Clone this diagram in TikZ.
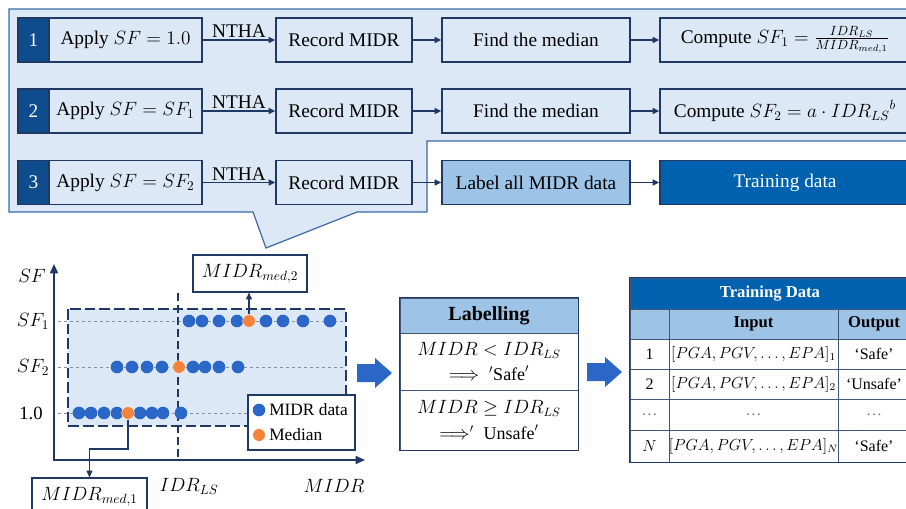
\documentclass[tikz,border=0pt]{standalone}
\usepackage{fontspec}
\setmainfont{Liberation Serif}
\usetikzlibrary{arrows.meta,calc}
\definecolor{panelfill}{HTML}{DCE8F5}
\definecolor{panelborder}{HTML}{3A6AA8}
\definecolor{navy}{HTML}{1F3864}
\definecolor{numfill}{HTML}{0F4C8E}
\definecolor{tdfill}{HTML}{0062AE}
\definecolor{labfill}{HTML}{9DC3E6}
\definecolor{dotblue}{HTML}{2B67C6}
\definecolor{dotorange}{HTML}{F5823A}
\definecolor{rowgray}{HTML}{8A8FA0}
\begin{document}
\begin{tikzpicture}[x=0.75pt,y=-0.75pt,
  box/.style={draw=navy, line width=1.1pt, fill=panelfill, minimum height=33pt, inner sep=0pt, font=\fontsize{14.5}{17}\selectfont},
  numbox/.style={box, fill=numfill, text=white, minimum width=23.25pt},
  txt/.style={inner sep=0pt, font=\fontsize{14.5}{17}\selectfont},
  flow/.style={draw=navy, line width=1.1pt, -{Triangle[length=5pt,width=4.5pt]}},
  dot/.style={circle, fill=dotblue, minimum size=9.5pt, inner sep=0pt},
  med/.style={circle, fill=dotorange, draw=white, line width=0.3pt, minimum size=9.5pt, inner sep=0pt},
  rowline/.style={draw=rowgray, line width=0.6pt, dash pattern=on 2.5pt off 2pt},
  mbox/.style={draw=navy, line width=0.9pt, fill=white, inner sep=0pt, font=\fontsize{14}{16}\selectfont},
  plab/.style={inner sep=0pt, font=\fontsize{14}{16}\selectfont},
  cell/.style={draw=navy!85, line width=0.6pt, fill=white, inner sep=0pt, font=\fontsize{12}{14}\selectfont},
  bigarrow/.style={fill=dotblue}
]
\useasboundingbox (0,0) rectangle (906,508);
\clip (0,0) rectangle (906,508);

% ---------- top panel ----------
\filldraw[fill=panelfill, draw=panelborder, line width=0.9pt]
  (9,9) -- (912,9) -- (912,141) -- (427,141) -- (427,212) -- (357,212)
  -- (266,248) -- (253,212) -- (9,212) -- cycle;

% row 1
\node[box, minimum width=138pt] (a1) at (110,40) {};
\node[numbox, minimum height=33pt] (n1) at (33.5,40) {1};
\node[txt] (a1t) at (125.5,40) {Apply $SF=1.0$};
\node[box, minimum width=102pt] (r1) at (344,40) {Record MIDR};
\node[box, minimum width=141pt] (f1) at (536,40) {Find the median};
\node[box, minimum width=187.5pt] (c1) at (785,40) {Compute $SF_1=\frac{IDR_{LS}}{MIDR_{med,1}}$};
\draw[flow] (a1) -- node[above, inner sep=1pt, font=\fontsize{14.5}{17}\selectfont]{NTHA} (r1);
\draw[flow] (r1) -- (f1);
\draw[flow] (f1) -- (c1);

% row 2
\node[box, minimum width=138pt] (a2) at (110,111) {};
\node[numbox] (n2) at (33.5,111) {2};
\node[txt] (a2t) at (125.5,111) {Apply $SF=SF_1$};
\node[box, minimum width=102pt] (r2) at (344,111) {Record MIDR};
\node[box, minimum width=141pt] (f2) at (536,111) {Find the median};
\node[box, minimum width=187.5pt] (c2) at (785,111) {Compute $SF_2=a\cdot {IDR_{LS}}^{b}$};
\draw[flow] (a2) -- node[above, inner sep=1pt, font=\fontsize{14.5}{17}\selectfont]{NTHA} (r2);
\draw[flow] (r2) -- (f2);
\draw[flow] (f2) -- (c2);

% row 3
\node[box, minimum width=138pt] (a3) at (110,182.5) {};
\node[numbox] (n3) at (33.5,182.5) {3};
\node[txt] (a3t) at (125.5,182.5) {Apply $SF=SF_2$};
\node[box, minimum width=102pt] (r3) at (344,182.5) {Record MIDR};
\node[box, minimum width=141pt, fill=labfill] (l3) at (536,182.5) {Label all MIDR data};
\node[box, minimum width=187.5pt, fill=tdfill, text=white] (t3) at (785,182.5) {Training data};
\draw[flow] (a3) -- node[above, inner sep=1pt, font=\fontsize{14.5}{17}\selectfont]{NTHA} (r3);
\draw[flow] (r3) -- (l3);
\draw[flow] (l3) -- (t3);

% ---------- plot ----------
\fill[panelfill] (68,309) rectangle (346,426);
\draw[rowline] (58,321) -- (343,321);
\draw[rowline] (58,367) -- (343,367);
\draw[rowline] (58,413) -- (343,413);
\draw[navy, line width=1.3pt, dash pattern=on 8pt off 3pt] (68,309) rectangle (346,426);
\draw[navy, line width=1.1pt, dash pattern=on 6pt off 3pt] (178,293) -- (178,460);

\coordinate (ytop) at (54,264);
\coordinate (xend) at (365,460);
\draw[navy, line width=1.3pt, {Triangle[length=7pt,width=6pt]}-{Triangle[length=7pt,width=6pt]}] (ytop) |- (xend);

\node[plab] (lsf) at (32,276) {$SF$};
\node[plab] (lsf1) at (33,321) {$SF_1$};
\node[plab] (lsf2) at (33,367) {$SF_2$};
\node[plab] (l10) at (31,413) {1.0};
\node[plab] (lidr) at (189,486) {$IDR_{LS}$};
\node[plab] (lmidr) at (334,486) {$MIDR$};

\foreach \x in {189,202,219,237,266,283,303,330} \node[dot] at (\x,321) {};
\node[med] (m2) at (249,321) {};
\foreach \x in {117,132,147,162,193,205,219,238} \node[dot] at (\x,367) {};
\node[med] (m0) at (179,367) {};
\foreach \x in {79,91,104,117,140,152,163,181} \node[dot] at (\x,413) {};
\node[med] (m1) at (128,413) {};

% legend
\node[draw=navy, line width=0.9pt, fill=white, minimum width=80.25pt, minimum height=41.25pt, inner sep=0pt] (leg) at (301.5,422.5) {};
\node[dot] (ld) at (259,410) {};
\node[med] (lm) at (259,435) {};
\node[anchor=west, inner sep=0pt, font=\fontsize{13}{15}\selectfont] (ldt) at (269,410) {MIDR data};
\node[anchor=west, inner sep=0pt, font=\fontsize{13}{15}\selectfont] (lmt) at (269,435) {Median};

% median boxes
\node[mbox, minimum width=85.5pt, minimum height=27.75pt] (b2) at (250,273.5) {$MIDR_{med,2}$};
\draw[navy, line width=0.9pt, -{Triangle[length=5pt,width=4.5pt]}] (m2.north) -- (m2.north |- b2.south);
\node[mbox, minimum width=86.25pt, minimum height=27.75pt] (b1) at (89.5,496.5) {$MIDR_{med,1}$};
\coordinate (k1) at (89.5,449);
\draw[navy, line width=0.9pt, -{Triangle[length=5pt,width=4.5pt]}] (m1.south) |- (k1) -- (b1.north);

% big arrows
\fill[bigarrow] (357,364) -- (375,364) -- (375,358) -- (392,373) -- (375,388) -- (375,382) -- (357,382) -- cycle;
\fill[bigarrow] (587,363) -- (605,363) -- (605,357) -- (622,372) -- (605,387) -- (605,381) -- (587,381) -- cycle;

% ---------- labelling table ----------
\node[cell, fill=labfill, minimum width=133.5pt, minimum height=26.25pt, font=\fontsize{15}{17}\bfseries] (lh) at (489,315.5) {Labelling};
\node[cell, minimum width=133.5pt, minimum height=42.75pt, align=center, font=\fontsize{13.5}{17}\selectfont] (lr1) at (489,361.5) {$MIDR<IDR_{LS}$\\[2pt]$\Longrightarrow\ {}'\mbox{Safe}'$};
\node[cell, minimum width=133.5pt, minimum height=45pt, align=center, font=\fontsize{13.5}{17}\selectfont] (lr2) at (489,420) {$MIDR\geq IDR_{LS}$\\[3pt]$\Longrightarrow'\ \mbox{Unsafe}'$};
\draw[navy, line width=1.3pt] (lh.north west) rectangle (lr2.south east);

% ---------- training data table ----------
\node[cell, fill=tdfill, text=white, minimum width=210pt, minimum height=23.25pt, font=\fontsize{12.5}{14}\bfseries] (th) at (770,293.5) {Training Data};
\node[cell, fill=labfill, minimum width=29.25pt, minimum height=22.5pt] (h0) at (649.5,324) {};
\node[cell, fill=labfill, minimum width=126.75pt, minimum height=22.5pt, font=\fontsize{12.5}{14}\bfseries] (hin) at (753.5,324) {Input};
\node[cell, fill=labfill, minimum width=54pt, minimum height=22.5pt, font=\fontsize{12.5}{14}\bfseries] (hout) at (874,324) {Output};

\node[cell, minimum width=29.25pt, minimum height=22.5pt] (r1a) at (649.5,354) {1};
\node[cell, minimum width=126.75pt, minimum height=22.5pt] (r1b) at (753.5,354) {$[PGA,PGV,\dots,EPA]_1$};
\node[cell, minimum width=54pt, minimum height=22.5pt] (r1c) at (874,354) {‘Safe’};

\node[cell, minimum width=29.25pt, minimum height=22.5pt] (r2a) at (649.5,384) {2};
\node[cell, minimum width=126.75pt, minimum height=22.5pt] (r2b) at (753.5,384) {$[PGA,PGV,\dots,EPA]_2$};
\node[cell, minimum width=54pt, minimum height=22.5pt] (r2c) at (874,384) {‘Unsafe’};

\node[cell, minimum width=29.25pt, minimum height=23.25pt, text=gray] (r3a) at (649.5,414.5) {\dots};
\node[cell, minimum width=126.75pt, minimum height=23.25pt, text=gray] (r3b) at (753.5,414.5) {\dots};
\node[cell, minimum width=54pt, minimum height=23.25pt, text=gray] (r3c) at (874,414.5) {\dots};

\node[cell, minimum width=29.25pt, minimum height=24pt] (r4a) at (649.5,446) {$N$};
\node[cell, minimum width=126.75pt, minimum height=24pt] (r4b) at (753.5,446) {$[PGA,PGV,\dots,EPA]_N$};
\node[cell, minimum width=54pt, minimum height=24pt] (r4c) at (874,446) {‘Safe’};
\draw[navy, line width=1pt] (th.north west) rectangle (r4c.south east);
\end{tikzpicture}
\end{document}
